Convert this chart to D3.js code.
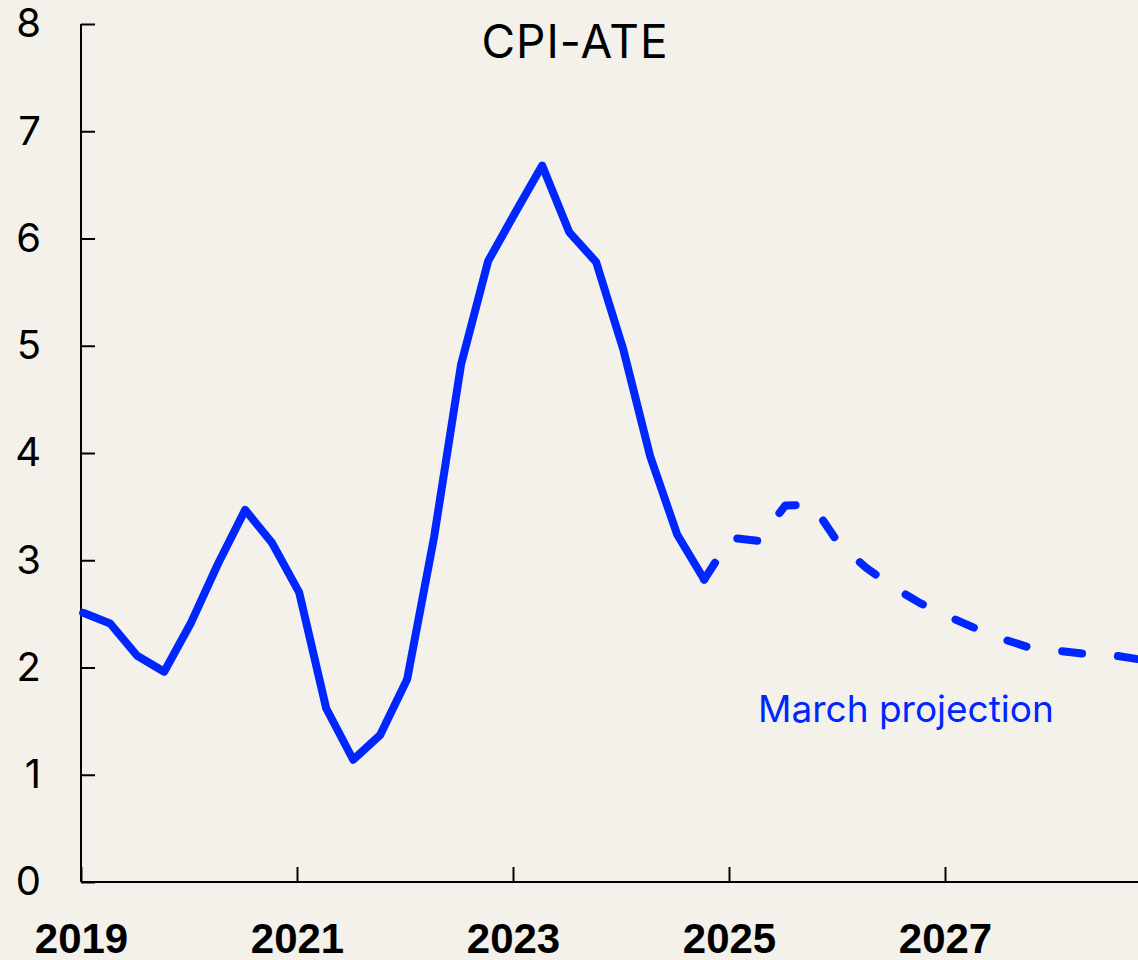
<!DOCTYPE html>
<html>
<head>
<meta charset="utf-8">
<script src="https://cdn.jsdelivr.net/npm/d3@7"></script>
<style>
	html, body { margin: 0; padding: 0; background: #f4f1eb; }
	svg { display: block; }
	.axis path, .axis line { stroke: #000; stroke-width: 2; }
	.axis--y text { font-family: Inter, "Noto Sans", sans-serif; font-size: 40px; fill: #000; }
	.axis--x text { font-family: "Liberation Sans", Arial, sans-serif; font-weight: bold; font-size: 42px; fill: #000; }
</style>
</head>
<body>
<svg width="1138" height="960"></svg>
<script>
// actual quarterly figures
const periodsActual = ["2019Q1","2019Q2","2019Q3","2019Q4","2020Q1","2020Q2","2020Q3","2020Q4",
	"2021Q1","2021Q2","2021Q3","2021Q4","2022Q1","2022Q2","2022Q3","2022Q4",
	"2023Q1","2023Q2","2023Q3","2023Q4","2024Q1","2024Q2","2024Q3","2024Q4"];
const valuesActual = [2.51, 2.41, 2.11, 1.96, 2.42, 2.97, 3.47, 3.16,
	2.70, 1.62, 1.14, 1.37, 1.89, 3.22, 4.83, 5.79,
	6.24, 6.68, 6.06, 5.78, 4.97, 3.97, 3.24, 2.82];

// march projection, starts at the last actual quarter
const periodsProj = ["2024Q4","2025Q1","2025Q2","2025Q3","2025Q4","2026Q1","2026Q2","2026Q3","2026Q4",
	"2027Q1","2027Q2","2027Q3","2027Q4","2028Q1","2028Q2","2028Q3","2028Q4"];
const valuesProj = [2.82, 3.21, 3.18, 3.51, 3.52, 3.15, 2.93, 2.75, 2.60,
	2.48, 2.37, 2.27, 2.19, 2.16, 2.13, 2.12, 2.08];

const yTicks = [0, 1, 2, 3, 4, 5, 6, 7, 8];
const xTicks = [2019, 2021, 2023, 2025, 2027];

const title = "CPI-ATE";
const projLabel = "March projection";

const blue = "#0026ff";

// quarter -> decimal year (observation dated just after the quarter start)
function kwartaal(p) {
	return +p.slice(0, 4) + (+p.slice(5) - 1) / 4 + 0.02;
}

const svg = d3.select("svg");
const margin = { top: 24, right: 0, bottom: 78, left: 81 };
const width = 1138 - margin.left - margin.right;
const height = 960 - margin.top - margin.bottom;

const x = d3.scaleLinear([2019, 2029], [0, 1080]);
const y = d3.scaleLinear([0, 8], [height, 0]);

const g = svg.append("g")
	.attr("transform", `translate(${margin.left},${margin.top})`);

g.append("g")
	.attr("class", "axis axis--y")
	.call(d3.axisLeft(y).tickValues(yTicks).tickSizeInner(-14).tickSizeOuter(0).tickPadding(40))
	.call(a => a.select(".domain").attr("d", `M0,0V${height}`));

g.append("g")
	.attr("class", "axis axis--x")
	.attr("transform", `translate(0,${height})`)
	.call(d3.axisBottom(x).tickValues(xTicks).tickFormat(d3.format("d")).tickSizeInner(-15).tickSizeOuter(0).tickPadding(41))
	.call(a => a.select(".domain").attr("d", `M0,0H${width}`));

const line = d3.line()
	.x(d => x(d[0]))
	.y(d => y(d[1]));

const actual = periodsActual.map((p, i) => [kwartaal(p), valuesActual[i]]);
const proj = periodsProj.map((p, i) => [kwartaal(p), valuesProj[i]]);

g.append("path")
	.attr("fill", "none")
	.attr("stroke", blue)
	.attr("stroke-width", 8)
	.attr("stroke-linejoin", "round")
	.attr("stroke-linecap", "round")
	.attr("d", line(actual));

g.append("path")
	.attr("fill", "none")
	.attr("stroke", blue)
	.attr("stroke-width", 8)
	.attr("stroke-linejoin", "round")
	.attr("stroke-linecap", "round")
	.attr("stroke-dasharray", "20,36")
	.attr("d", line(proj));

svg.append("text")
	.attr("x", 575)
	.attr("y", 58)
	.attr("text-anchor", "middle")
	.style("font-family", "Inter, 'Noto Sans', sans-serif")
	.style("font-size", "46px")
	.style("letter-spacing", "1px")
	.attr("fill", "#000")
	.text(title);

svg.append("text")
	.attr("x", 758)
	.attr("y", 722)
	.style("font-family", "Inter, 'Noto Sans', sans-serif")
	.style("font-size", "37px")
	.attr("fill", blue)
	.text(projLabel);
</script>
</body>
</html>
